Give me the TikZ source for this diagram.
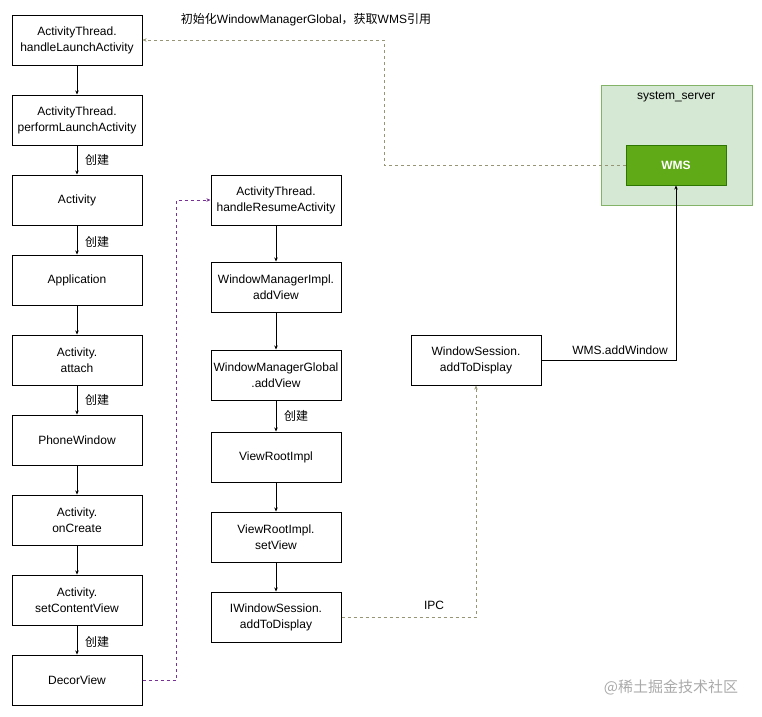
\documentclass[tikz,border=0pt]{standalone}
\usepackage{fontspec}
\setmainfont{Liberation Sans}
\newfontfamily\cjk{Noto Sans CJK SC}
\usetikzlibrary{arrows.meta}

\definecolor{lineGray}{RGB}{150,150,118}
\definecolor{linePurple}{RGB}{118,48,150}
\definecolor{serverFill}{RGB}{213,232,212}
\definecolor{serverDraw}{RGB}{130,179,102}
\definecolor{wmsFill}{RGB}{96,169,23}
\definecolor{wmsDraw}{RGB}{45,118,0}

\tikzset{
  callbox/.style={draw=black, line width=1pt, fill=white, minimum width=130, minimum height=50,
    inner sep=0pt, align=center, font=\fontsize{12}{16}\selectfont},
  tip/.style={-{Stealth[length=4pt,width=3.5pt]}},
  flow/.style={tip, line width=0.9pt},
  dashgray/.style={tip, draw=lineGray, line width=0.8pt, dash pattern={on 3pt off 3pt}},
  dashpurple/.style={tip, draw=linePurple, line width=0.8pt, dash pattern={on 3pt off 3pt}},
  lbl/.style={font=\fontsize{12}{15}\selectfont, inner sep=0pt},
  cjklbl/.style={font=\cjk\fontsize{12}{15}\selectfont, inner sep=0pt, anchor=west}
}

\begin{document}
\begin{tikzpicture}[x=1pt,y=1pt,yscale=-1,xscale=1]
\path (0,0) rectangle (762,716); %set diagram size

%Shape: system_server group
\draw [draw=serverDraw, fill=serverFill, line width=1pt] (601,85) rectangle (752,205);
\node [lbl] (srvlabel) at (676,97) {system\_server};
%Shape: WMS
\node [draw=wmsDraw, fill=wmsFill, line width=1pt, minimum width=100, minimum height=40, inner sep=0pt,
  text=white, font=\bfseries\fontsize{12}{15}\selectfont] (wms) at (676,165) {WMS};

% Left column
\node [callbox] (handleLaunch) at (77,40) {ActivityThread.\\handleLaunchActivity};
\node [callbox] (performLaunch) at (77,120) {ActivityThread.\\performLaunchActivity};
\node [callbox] (activity) at (77,200) {Activity};
\node [callbox] (application) at (77,280) {Application};
\node [callbox] (attach) at (77,360) {Activity.\\attach};
\node [callbox] (phoneWindow) at (77,440) {PhoneWindow};
\node [callbox] (onCreate) at (77,520) {Activity.\\onCreate};
\node [callbox] (setContent) at (77,600) {Activity.\\setContentView};
\node [callbox] (decorView) at (77,680) {DecorView};

% Middle column
\node [callbox] (handleResume) at (276,200) {ActivityThread.\\handleResumeActivity};
\node [callbox] (wmImpl) at (276,287) {WindowManagerImpl.\\addView};
\node [callbox] (wmGlobal) at (276,375) {WindowManagerGlobal\\.addView};
\node [callbox] (viewRoot) at (276,457) {ViewRootImpl};
\node [callbox] (setView) at (276,537) {ViewRootImpl.\\setView};
\node [callbox] (iSession) at (276,617) {IWindowSession.\\addToDisplay};

% Right
\node [callbox] (session) at (476,360) {WindowSession.\\addToDisplay};

%Straight Lines: left column
\draw [flow] (handleLaunch) -- (performLaunch);
\draw [flow] (performLaunch) -- (activity);
\draw [flow] (activity) -- (application);
\draw [flow] (application) -- (attach);
\draw [flow] (attach) -- (phoneWindow);
\draw [flow] (phoneWindow) -- (onCreate);
\draw [flow] (onCreate) -- (setContent);
\draw [flow] (setContent) -- (decorView);

%Straight Lines: middle column
\draw [flow] (handleResume) -- (wmImpl);
\draw [flow] (wmImpl) -- (wmGlobal);
\draw [flow] (wmGlobal) -- (viewRoot);
\draw [flow] (viewRoot) -- (setView);
\draw [flow] (setView) -- (iSession);

%Connectors
\draw [dashpurple] (decorView.east) -| (176,200) -- (handleResume.west);
\draw [dashgray] (iSession.east) -| (session.south);
\draw [flow] (session.east) -| (wms.south);
\draw [dashgray] (wms.west) -| (384,40) -- (handleLaunch.east);

% Text Node
\node [cjklbl] (c1) at (85,160) {创建};
\node [cjklbl] (c2) at (85,242) {创建};
\node [cjklbl] (c3) at (85,400) {创建};
\node [cjklbl] (c4) at (85,642) {创建};
\node [cjklbl] (c5) at (284,416) {创建};
% Text Node
\node [lbl] (initlabel) at (306,20) {{\cjk 初始化}WindowManagerGlobal{\cjk ，获取}WMS{\cjk 引用}};
\node [lbl] (addwinlabel) at (620,350) {WMS.addWindow};
\node [lbl] (ipclabel) at (434,605) {IPC};
% Text Node
\node [font=\cjk\fontsize{15}{18}\selectfont, text={rgb,255:red,170;green,170;blue,170}, inner sep=0pt] (mark) at (671,687) {@稀土掘金技术社区};

\end{tikzpicture}
\end{document}
